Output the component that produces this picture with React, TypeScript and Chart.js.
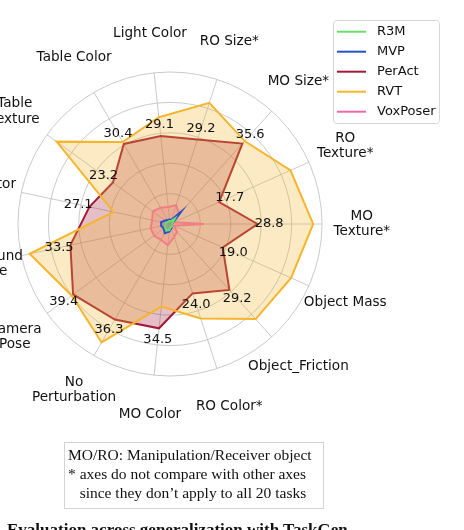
import React, { useEffect, useRef } from "react";
import { Chart, registerables } from "chart.js";

Chart.register(...registerables);

const axisLabels: string[][] = [
  ["Light Color"],
  ["RO Size*"],
  ["MO Size*"],
  ["RO", "Texture*"],
  ["MO", "Texture*"],
  ["Object Mass"],
  ["Object_Friction"],
  ["RO Color*"],
  ["MO Color"],
  ["No", "Perturbation"],
  ["Camera", "Pose"],
  ["Background", "Texture"],
  ["Distractor"],
  ["Table", "Texture"],
  ["Table Color"],
];

const seriesNames = ["R3M", "MVP", "PerAct", "RVT", "VoxPoser"];
const r3mValues = [1.0, 1.0, 2.5, 1.0, 0.5, 0.5, 1.0, 1.0, 2.0, 2.5, 2.0, 1.5, 1.5, 1.0, 1.0];
const mvpValues = [1.5, 1.5, 5.5, 1.0, 0.5, 0.5, 1.0, 1.5, 2.5, 3.5, 2.5, 3.0, 3.0, 2.0, 1.5];
const perActValues = [29.1, 29.2, 35.6, 17.7, 28.8, 19.0, 29.2, 24.0, 34.5, 36.3, 39.4, 33.5, 27.1, 23.2, 30.4];
const rvtValues = [35.3, 41.9, 36.7, 43.4, 47.1, 43.6, 42.1, 32.7, 27.3, 45.0, 40.0, 47.2, 19.0, 46.1, 31.1];
const voxPoserValues = [5.6, 6.5, 4.5, 1.5, 11.2, 1.5, 3.5, 4.5, 7.0, 6.0, 6.5, 6.5, 6.0, 7.0, 6.2];

const seriesColors = ["#6bdc6b", "#2452c9", "#a31a35", "#f6b52c", "#f06aa8"];
const radialTicks = [0, 10, 20, 30, 40, 50];

function hexToRgba(hex: string, a: number) {
  const n = parseInt(hex.slice(1), 16);
  return `rgba(${(n >> 16) & 255},${(n >> 8) & 255},${n & 255},${a})`;
}

const overlayPlugin = {
  id: "overlay",
  afterDatasetsDraw(chart: any) {
    const ctx = chart.ctx;
    const scale = chart.scales.r;
    ctx.save();
    ctx.fillStyle = "#111111";
    ctx.textAlign = "center";
    ctx.textBaseline = "middle";
    ctx.font = "13px 'DejaVu Sans'";
    perActValues.forEach((v, i) => {
      const p = scale.getPointPositionForValue(i, v + 3.8);
      ctx.fillText(v.toFixed(1), p.x, p.y);
    });
    ctx.font = "13.6px 'DejaVu Sans'";
    axisLabels.forEach((lines, i) => {
      const p = scale.getPointPosition(i, scale.drawingArea * 1.262);
      const lh = 15.5;
      lines.forEach((t, k) => {
        ctx.fillText(t, p.x, p.y + (k - (lines.length - 1) / 2) * lh);
      });
    });
    // legend
    ctx.font = "13px 'DejaVu Sans'";
    const bx = 333.5, by = 20.5, bw = 106, bh = 103, rr = 3;
    ctx.beginPath();
    ctx.moveTo(bx + rr, by);
    ctx.lineTo(bx + bw - rr, by);
    ctx.quadraticCurveTo(bx + bw, by, bx + bw, by + rr);
    ctx.lineTo(bx + bw, by + bh - rr);
    ctx.quadraticCurveTo(bx + bw, by + bh, bx + bw - rr, by + bh);
    ctx.lineTo(bx + rr, by + bh);
    ctx.quadraticCurveTo(bx, by + bh, bx, by + bh - rr);
    ctx.lineTo(bx, by + rr);
    ctx.quadraticCurveTo(bx, by, bx + rr, by);
    ctx.closePath();
    ctx.fillStyle = "rgba(255,255,255,0.85)";
    ctx.fill();
    ctx.strokeStyle = "#d6d6d6";
    ctx.lineWidth = 1;
    ctx.stroke();
    ctx.textAlign = "left";
    seriesNames.forEach((name, i) => {
      const y = 31.7 + i * 20;
      ctx.strokeStyle = seriesColors[i];
      ctx.lineWidth = 2;
      ctx.beginPath();
      ctx.moveTo(337, y);
      ctx.lineTo(366, y);
      ctx.stroke();
      ctx.fillStyle = "#111111";
      ctx.fillText(name, 377, y);
    });
    ctx.restore();
  },
};

export default function App() {
  const canvasRef = useRef<HTMLCanvasElement | null>(null);

  useEffect(() => {
    const canvas = canvasRef.current;
    if (!canvas) return;
    const valueSets = [r3mValues, mvpValues, perActValues, rvtValues, voxPoserValues];
    const drawOrder = [0, 1, 4, 2, 3];
    const chart = new Chart(canvas, {
      type: "radar",
      data: {
        labels: axisLabels.map((l) => l.join(" ")),
        datasets: seriesNames.map((name, i) => ({
          label: name,
          data: valueSets[i],
          borderColor: seriesColors[i],
          backgroundColor: hexToRgba(seriesColors[i], 0.28),
          borderWidth: 2,
          pointRadius: 0,
          fill: true,
          tension: 0,
          order: drawOrder[i],
        })),
      },
      options: {
        responsive: false,
        animation: false,
        layout: { padding: { left: 18, top: 72, right: 142, bottom: 154 } },
        plugins: {
          legend: { display: false },
          tooltip: { enabled: false },
        },
        scales: {
          r: {
            min: radialTicks[0],
            max: radialTicks[radialTicks.length - 1],
            startAngle: -6,
            ticks: { display: false, stepSize: 10 },
            pointLabels: { display: false },
            grid: { circular: true, color: "#bdbdbd", lineWidth: 0.8 },
            angleLines: { color: "#bdbdbd", lineWidth: 0.8 },
          },
        },
      },
      plugins: [overlayPlugin],
    });
    return () => chart.destroy();
  }, []);

  return (
    <div style={{ position: "absolute", left: 0, top: 0, width: 464, height: 530, overflow: "hidden", background: "#fff" }}>
      <canvas ref={canvasRef} width={464} height={530} style={{ position: "absolute", left: 0, top: 0 }} />
      <div
        style={{
          position: "absolute",
          left: 64,
          top: 442,
          width: 260,
          height: 67,
          boxSizing: "border-box",
          border: "1px solid #d4d4d4",
          padding: "2px 0 0 3px",
          fontFamily: "'Liberation Serif', 'Times New Roman', serif",
          fontSize: "15.5px",
          lineHeight: "19px",
          whiteSpace: "pre",
          color: "#111",
        }}
      >
        {"MO/RO: Manipulation/Receiver object\n* axes do not compare with other axes\n   since they don\u2019t apply to all 20 tasks"}
      </div>
      <div
        style={{
          position: "absolute",
          left: 7,
          top: 521,
          fontFamily: "'Liberation Serif', 'Times New Roman', serif",
          fontWeight: "bold",
          fontSize: "17px",
          lineHeight: "17px",
          whiteSpace: "nowrap",
          color: "#111",
        }}
      >
        Evaluation across generalization with TaskGen
      </div>
    </div>
  );
}
